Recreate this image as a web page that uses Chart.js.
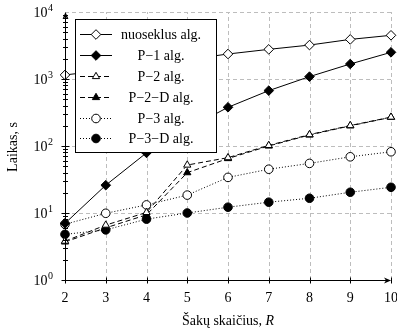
<!DOCTYPE html>
<html>
<head>
<meta charset="utf-8">
<script src="https://cdn.jsdelivr.net/npm/chart.js@4/dist/chart.umd.min.js"></script>
<style>
html,body{margin:0;padding:0;background:#fff;}
canvas{display:block;}
</style>
</head>
<body>
<canvas id="c" width="397" height="333"></canvas>
<script>
const categories = [2, 3, 4, 5, 6, 7, 8, 9, 10];
const nuoseklus = [1150, 1350, 1650, 1950, 2360, 2770, 3210, 3900, 4490];
const p1 = [7.0, 26, 79, 180, 378, 670, 1085, 1675, 2500];
const p2 = [3.8, 6.6, 10.2, 52, 67, 102, 148, 202, 270];
const p2d = [3.7, 6.0, 9.4, 40, 65, 100, 146, 200, 268];
const p3 = [6.8, 9.9, 13.2, 18.5, 34, 45, 55, 69, 82];
const p3d = [4.8, 5.6, 8.1, 10, 12.2, 14.5, 16.6, 20.4, 24.2];
const seriesNames = ['nuoseklus alg.', 'P\u22121 alg.', 'P\u22122 alg.', 'P\u22122\u2212D alg.', 'P\u22123 alg.', 'P\u22123\u2212D alg.'];
const yTickValues = [1, 10, 100, 1000, 10000];
const yTickBase = '10';
const yTickExponents = ['0', '1', '2', '3', '4'];
const xTitle = 'Šakų skaičius, ';
const xTitleVar = 'R';
const yTitle = 'Laikas, s';

const FONT = "'Liberation Serif', 'DejaVu Serif', serif";

const styles = [
  {dash: [], shape: 'diamond', fill: '#fff'},
  {dash: [], shape: 'diamond', fill: '#000'},
  {dash: [5, 3], shape: 'triangle', fill: '#fff'},
  {dash: [5, 3], shape: 'triangle', fill: '#000'},
  {dash: [1, 2], shape: 'circle', fill: '#fff'},
  {dash: [1, 2], shape: 'circle', fill: '#000'}
];
const seriesData = [nuoseklus, p1, p2, p2d, p3, p3d];

function pointStyleFor(shape) {
  return shape === 'diamond' ? 'rectRot' : shape;
}

const datasets = seriesData.map((arr, i) => ({
  label: seriesNames[i],
  data: categories.map((c, j) => ({x: c, y: arr[j]})),
  borderColor: '#000',
  borderWidth: 1,
  borderDash: styles[i].dash,
  pointStyle: pointStyleFor(styles[i].shape),
  pointRadius: styles[i].shape === 'diamond' ? 4.8 : (styles[i].shape === 'circle' ? 4.3 : 4.2),
  pointBackgroundColor: styles[i].fill,
  pointBorderColor: '#000',
  pointBorderWidth: 1,
  tension: 0,
  clip: false
}));

function drawMarker(ctx, shape, x, y, fill) {
  ctx.save();
  ctx.setLineDash([]);
  ctx.lineWidth = 1;
  ctx.strokeStyle = '#000';
  ctx.fillStyle = fill;
  ctx.beginPath();
  if (shape === 'diamond') {
    const r = 4.8;
    ctx.moveTo(x, y - r); ctx.lineTo(x + r, y); ctx.lineTo(x, y + r); ctx.lineTo(x - r, y); ctx.closePath();
  } else if (shape === 'triangle') {
    const r = 4.2;
    ctx.moveTo(x, y - r); ctx.lineTo(x + r * 0.866, y + r * 0.5); ctx.lineTo(x - r * 0.866, y + r * 0.5); ctx.closePath();
  } else {
    ctx.arc(x, y, 4.3, 0, Math.PI * 2);
  }
  ctx.fill();
  ctx.stroke();
  ctx.restore();
}

const gridPlugin = {
  id: 'gridPlugin',
  beforeDatasetsDraw(chart) {
    const ctx = chart.ctx;
    const {left, right, top, bottom} = chart.chartArea;
    const xs = chart.scales.x, ys = chart.scales.y;
    ctx.save();
    ctx.strokeStyle = '#bdbdbd';
    ctx.lineWidth = 1;
    ctx.setLineDash([4, 3]);
    ctx.beginPath();
    yTickValues.forEach(v => {
      const py = Math.round(ys.getPixelForValue(v)) + 0.5;
      ctx.moveTo(left, py); ctx.lineTo(right, py);
    });
    categories.forEach(c => {
      const px = Math.round(xs.getPixelForValue(c)) + 0.5;
      ctx.moveTo(px, bottom); ctx.lineTo(px, top);
    });
    ctx.stroke();
    ctx.restore();
  }
};

const decor = {
  id: 'decor',
  afterDatasetsDraw(chart) {
    const ctx = chart.ctx;
    const {left, right, top, bottom} = chart.chartArea;
    const xs = chart.scales.x, ys = chart.scales.y;
    ctx.save();
    ctx.strokeStyle = '#000';
    ctx.fillStyle = '#000';
    ctx.lineWidth = 1;
    ctx.setLineDash([]);
    // axes
    ctx.beginPath();
    ctx.moveTo(left + 0.5, bottom + 0.5); ctx.lineTo(left + 0.5, top + 4);
    ctx.moveTo(left + 0.5, bottom + 0.5); ctx.lineTo(right - 4, bottom + 0.5);
    ctx.stroke();
    // arrows
    ctx.beginPath();
    ctx.moveTo(left + 0.5, top); ctx.lineTo(left + 3.5, top + 7); ctx.lineTo(left + 0.5, top + 5); ctx.lineTo(left - 2.5, top + 7); ctx.closePath();
    ctx.fill();
    ctx.beginPath();
    ctx.moveTo(right, bottom + 0.5); ctx.lineTo(right - 7, bottom + 3.5); ctx.lineTo(right - 5, bottom + 0.5); ctx.lineTo(right - 7, bottom - 2.5); ctx.closePath();
    ctx.fill();
    // y ticks major + minor
    ctx.beginPath();
    for (let d = 0; d < 4; d++) {
      for (let m = 1; m <= 9; m++) {
        const v = m * Math.pow(10, d);
        const py = Math.round(ys.getPixelForValue(v)) + 0.5;
        const len = m === 1 ? 4 : 2.5;
        ctx.moveTo(left + 0.5 - len, py); ctx.lineTo(left + 0.5 + len, py);
      }
    }
    // x ticks
    categories.forEach(c => {
      const px = Math.round(xs.getPixelForValue(c)) + 0.5;
      ctx.moveTo(px, bottom + 0.5 - 3); ctx.lineTo(px, bottom + 0.5 + 3);
    });
    ctx.stroke();

    // y tick labels: 10 with superscript exponent
    ctx.fillStyle = '#000';
    ctx.textBaseline = 'alphabetic';
    yTickValues.forEach((v, i) => {
      const py = ys.getPixelForValue(v);
      ctx.font = '10px ' + FONT;
      const we = ctx.measureText(yTickExponents[i]).width;
      ctx.textAlign = 'right';
      ctx.fillText(yTickExponents[i], 53, py - 1);
      ctx.font = '14px ' + FONT;
      ctx.fillText(yTickBase, 53 - we - 0.5, py + 5);
    });

    // titles
    ctx.textBaseline = 'middle';
    ctx.font = '14px ' + FONT;
    const w1 = ctx.measureText(xTitle).width;
    ctx.font = 'italic 14px ' + FONT;
    const w2 = ctx.measureText(xTitleVar).width;
    const cx = (left + right) / 2;
    const startX = cx - (w1 + w2) / 2;
    ctx.textAlign = 'left';
    ctx.font = '14px ' + FONT;
    ctx.fillText(xTitle, startX, 321);
    ctx.font = 'italic 14px ' + FONT;
    ctx.fillText(xTitleVar, startX + w1, 321);

    ctx.save();
    ctx.translate(13, 147);
    ctx.rotate(-Math.PI / 2);
    ctx.textAlign = 'center';
    ctx.font = '14px ' + FONT;
    ctx.fillText(yTitle, 0, 0);
    ctx.restore();

    // legend
    const bx = 75.5, by = 19.5, bw = 141, bh = 133;
    ctx.fillStyle = '#fff';
    ctx.fillRect(bx, by, bw, bh);
    ctx.strokeStyle = '#000';
    ctx.strokeRect(bx, by, bw, bh);
    const rowY = [34, 55, 76, 97, 118, 138];
    seriesNames.forEach((name, i) => {
      const yy = rowY[i] + 0.5;
      ctx.save();
      ctx.setLineDash(styles[i].dash);
      ctx.beginPath();
      ctx.moveTo(80, yy); ctx.lineTo(112, yy);
      ctx.stroke();
      ctx.restore();
      drawMarker(ctx, styles[i].shape, 96, yy, styles[i].fill);
      ctx.fillStyle = '#000';
      ctx.font = '14px ' + FONT;
      ctx.textAlign = 'center';
      ctx.textBaseline = 'middle';
      ctx.fillText(name, 161, rowY[i] + 1);
    });
    ctx.restore();
  }
};

new Chart(document.getElementById('c'), {
  type: 'line',
  data: {datasets},
  options: {
    responsive: false,
    animation: false,
    events: [],
    layout: {padding: {top: 12, right: 6, left: 0, bottom: 0}},
    plugins: {legend: {display: false}, tooltip: {enabled: false}},
    scales: {
      x: {
        type: 'linear',
        min: 2, max: 10,
        afterBuildTicks(scale) { scale.ticks = categories.map(v => ({value: v})); },
        afterFit(scale) { scale.height = 53; scale.paddingLeft = 0; scale.paddingRight = 0; },
        grid: {display: false, drawTicks: false},
        border: {display: false},
        ticks: {
          autoSkip: false, maxRotation: 0, padding: 10,
          color: '#000', font: {family: FONT, size: 14},
          callback: v => String(v)
        }
      },
      y: {
        type: 'logarithmic',
        min: 1, max: 10000,
        afterBuildTicks(scale) { scale.ticks = yTickValues.map(v => ({value: v})); },
        afterFit(scale) { scale.width = 65; scale.paddingTop = 0; scale.paddingBottom = 0; },
        grid: {display: false, drawTicks: false},
        border: {display: false},
        ticks: {display: false}
      }
    }
  },
  plugins: [gridPlugin, decor]
});
</script>
</body>
</html>
